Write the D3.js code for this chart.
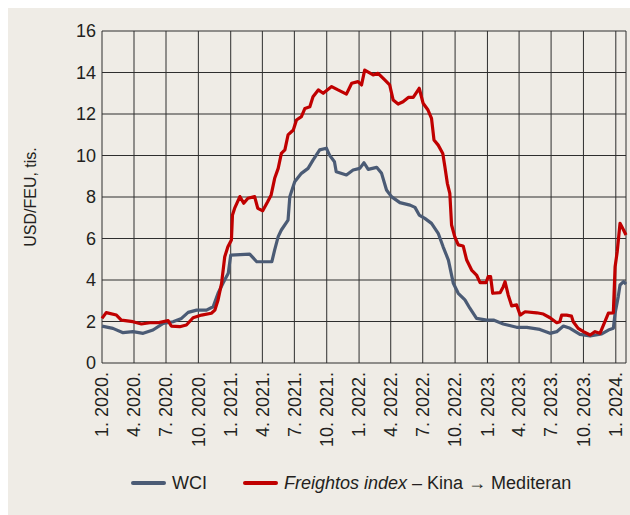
<!DOCTYPE html>
<html>
<head>
<meta charset="utf-8">
<script src="https://cdn.jsdelivr.net/npm/d3@7"></script>
<style>
  body { margin: 0; background: #fff; }
  svg text { font-family: "Liberation Sans", Arial, sans-serif; fill: #231f20; }
</style>
</head>
<body>
<div id="chart"></div>
<script>
// WCI, tis. USD/FEU
const wciDates = ['2020-01-01','2020-02-01','2020-03-01','2020-03-29','2020-04-27','2020-05-25','2020-06-23','2020-07-21','2020-08-14','2020-09-02','2020-09-26','2020-10-24','2020-11-12','2020-11-26','2020-12-10','2020-12-25','2021-01-01','2021-02-24','2021-03-16','2021-04-28','2021-05-06','2021-05-16','2021-05-25','2021-06-13','2021-06-18','2021-07-02','2021-07-21','2021-08-09','2021-08-23','2021-09-11','2021-09-30','2021-10-09','2021-10-23','2021-10-28','2021-11-26','2021-12-15','2022-01-03','2022-01-15','2022-01-27','2022-02-20','2022-03-06','2022-03-20','2022-04-03','2022-04-27','2022-05-26','2022-06-09','2022-06-21','2022-07-07','2022-07-26','2022-08-14','2022-08-28','2022-09-12','2022-09-26','2022-10-10','2022-10-29','2022-11-12','2022-12-01','2022-12-30','2023-01-18','2023-02-15','2023-03-25','2023-04-23','2023-05-30','2023-06-28','2023-07-17','2023-08-05','2023-08-24','2023-09-21','2023-10-20','2023-11-22','2023-12-11','2023-12-25','2023-12-30','2024-01-08','2024-01-13','2024-01-23','2024-01-30']
const wciValues = [1.78,1.67,1.46,1.51,1.43,1.59,1.91,1.99,2.15,2.44,2.55,2.55,2.71,3.36,3.84,4.32,5.2,5.25,4.88,4.88,5.45,6.09,6.41,6.89,8.01,8.74,9.14,9.38,9.78,10.27,10.35,10.02,9.7,9.22,9.06,9.3,9.38,9.65,9.33,9.43,9.14,8.34,8.02,7.73,7.61,7.5,7.13,6.97,6.73,6.25,5.6,4.96,3.84,3.36,3.04,2.64,2.15,2.07,2.07,1.88,1.72,1.72,1.62,1.43,1.51,1.78,1.67,1.38,1.3,1.4,1.59,1.67,2.4,3.2,3.76,3.92,3.8]

// Freightos index Kina -> Mediteran
const fbxDates = ['2020-01-01','2020-01-13','2020-02-11','2020-02-25','2020-03-29','2020-04-22','2020-05-16','2020-06-08','2020-07-07','2020-07-16','2020-08-09','2020-08-28','2020-09-16','2020-10-10','2020-11-07','2020-11-17','2020-11-26','2020-12-06','2020-12-15','2020-12-24','2021-01-03','2021-01-06','2021-01-12','2021-01-27','2021-02-07','2021-02-19','2021-03-10','2021-03-19','2021-04-02','2021-04-16','2021-04-26','2021-05-06','2021-05-16','2021-05-25','2021-06-04','2021-06-13','2021-06-28','2021-07-07','2021-07-21','2021-07-31','2021-08-14','2021-08-23','2021-09-07','2021-09-21','2021-10-15','2021-11-02','2021-11-26','2021-12-11','2021-12-29','2022-01-08','2022-01-17','2022-02-10','2022-02-24','2022-03-15','2022-03-29','2022-04-08','2022-04-22','2022-05-06','2022-05-21','2022-06-04','2022-06-21','2022-07-02','2022-07-16','2022-07-26','2022-08-02','2022-08-14','2022-08-27','2022-09-02','2022-09-09','2022-09-16','2022-09-21','2022-09-30','2022-10-10','2022-10-24','2022-11-03','2022-11-17','2022-12-01','2022-12-11','2022-12-28','2023-01-03','2023-01-10','2023-01-16','2023-02-06','2023-02-15','2023-02-20','2023-03-01','2023-03-11','2023-03-25','2023-04-04','2023-04-18','2023-05-21','2023-06-09','2023-06-28','2023-07-17','2023-07-26','2023-07-31','2023-08-14','2023-08-28','2023-09-02','2023-09-16','2023-10-01','2023-10-20','2023-11-03','2023-11-17','2023-12-01','2023-12-11','2023-12-25','2023-12-30','2024-01-05','2024-01-13','2024-01-23','2024-01-30']
const fbxValues = [2.15,2.43,2.31,2.07,1.99,1.88,1.94,1.94,2.04,1.78,1.75,1.83,2.18,2.31,2.4,2.55,3.04,3.84,5.12,5.6,5.93,7.13,7.45,8.02,7.7,7.94,8.02,7.45,7.34,7.77,8.1,8.9,9.38,10.1,10.27,10.99,11.23,11.71,11.87,12.27,12.35,12.83,13.16,13.0,13.32,13.16,12.96,13.48,13.56,13.4,14.12,13.88,13.96,13.64,13.4,12.67,12.48,12.59,12.8,12.8,13.24,12.52,12.19,11.79,10.75,10.5,10.1,9.46,8.66,8.18,6.65,6.09,5.69,5.64,4.96,4.48,4.24,3.87,3.87,4.16,4.16,3.36,3.39,3.68,3.92,3.28,2.75,2.8,2.31,2.47,2.42,2.36,2.18,1.94,1.99,2.31,2.31,2.26,1.99,1.67,1.51,1.35,1.51,1.43,1.99,2.4,2.42,4.64,5.36,6.73,6.41,6.17]

const yTicks = [0,2,4,6,8,10,12,14,16]
const seriesNames = ['WCI', 'Freightos index']
const seriesColors = ['#4b5b75', '#c00000']

function drawChart(width, height, container) {
  const parse = d3.timeParse('%Y-%m-%d')
  const wci = wciDates.map((d, i) => [parse(d), wciValues[i]])
  const fbx = fbxDates.map((d, i) => [parse(d), fbxValues[i]])

  const left = 102, right = 626, top = 31, bottom = 363

  const svg = d3.select('#' + container)
    .append('svg')
    .attr('width', width)
    .attr('height', height)

  // beige panel
  svg.append('rect')
    .attr('x', 8).attr('y', 8)
    .attr('width', width - 8).attr('height', height - 8)
    .attr('fill', '#efece6')

  const x = d3.scaleTime()
    .domain([new Date(2020, 0, 1), new Date(2024, 0, 30)])
    .range([left, right])
  const y = d3.scaleLinear()
    .domain([0, 16])
    .range([bottom, top])

  const quarters = d3.timeMonth.every(3).range(new Date(2020, 0, 1), new Date(2024, 0, 2))

  // grid
  const grid = svg.append('g').attr('stroke', '#2e2e2e').attr('stroke-width', 1)
  grid.selectAll('.vx')
    .data(quarters)
    .enter().append('line')
    .attr('x1', d => x(d)).attr('x2', d => x(d))
    .attr('y1', top).attr('y2', bottom)
  grid.selectAll('.hy')
    .data(yTicks)
    .enter().append('line')
    .attr('x1', left).attr('x2', right)
    .attr('y1', d => y(d)).attr('y2', d => y(d))
  grid.append('line')
    .attr('x1', right).attr('x2', right)
    .attr('y1', top).attr('y2', bottom)

  // y labels
  svg.selectAll('.ylab')
    .data(yTicks)
    .enter().append('text')
    .attr('x', 96)
    .attr('y', d => y(d))
    .attr('dy', '0.36em')
    .attr('text-anchor', 'end')
    .style('font-size', '18px')
    .text(d => d)

  svg.append('text')
    .attr('transform', 'translate(36,197) rotate(-90)')
    .attr('text-anchor', 'middle')
    .style('font-size', '16px')
    .text('USD/FEU, tis.')

  // x labels
  const fmt = d3.timeFormat('%-m. %Y.')
  svg.selectAll('.xlab')
    .data(quarters)
    .enter().append('text')
    .attr('transform', d => 'translate(' + x(d) + ',372) rotate(-90)')
    .attr('dy', '0.35em')
    .attr('text-anchor', 'end')
    .style('font-size', '18px')
    .text(d => fmt(d))

  const line = d3.line()
    .x(d => x(d[0]))
    .y(d => y(d[1]))

  svg.append('path')
    .datum(wci)
    .attr('d', line)
    .attr('fill', 'none')
    .attr('stroke', seriesColors[0])
    .attr('stroke-width', 3.2)
    .attr('stroke-linejoin', 'round')

  svg.append('path')
    .datum(fbx)
    .attr('d', line)
    .attr('fill', 'none')
    .attr('stroke', seriesColors[1])
    .attr('stroke-width', 3.2)
    .attr('stroke-linejoin', 'round')

  // legend
  const ly = 483
  const legend = svg.append('g')
  legend.append('line')
    .attr('x1', 133).attr('x2', 164).attr('y1', ly).attr('y2', ly)
    .attr('stroke', seriesColors[0]).attr('stroke-width', 4).attr('stroke-linecap', 'round')
  legend.append('text')
    .attr('x', 172).attr('y', ly).attr('dy', '0.36em')
    .style('font-size', '18px')
    .text(seriesNames[0])
  legend.append('line')
    .attr('x1', 245).attr('x2', 276).attr('y1', ly).attr('y2', ly)
    .attr('stroke', seriesColors[1]).attr('stroke-width', 4).attr('stroke-linecap', 'round')
  const t = legend.append('text')
    .attr('x', 284).attr('y', ly).attr('dy', '0.36em')
    .style('font-size', '18px')
  t.append('tspan').style('font-style', 'italic').text(seriesNames[1])
  t.append('tspan').text(' – Kina → Mediteran')
}

drawChart(630, 515, 'chart')
</script>
</body>
</html>
